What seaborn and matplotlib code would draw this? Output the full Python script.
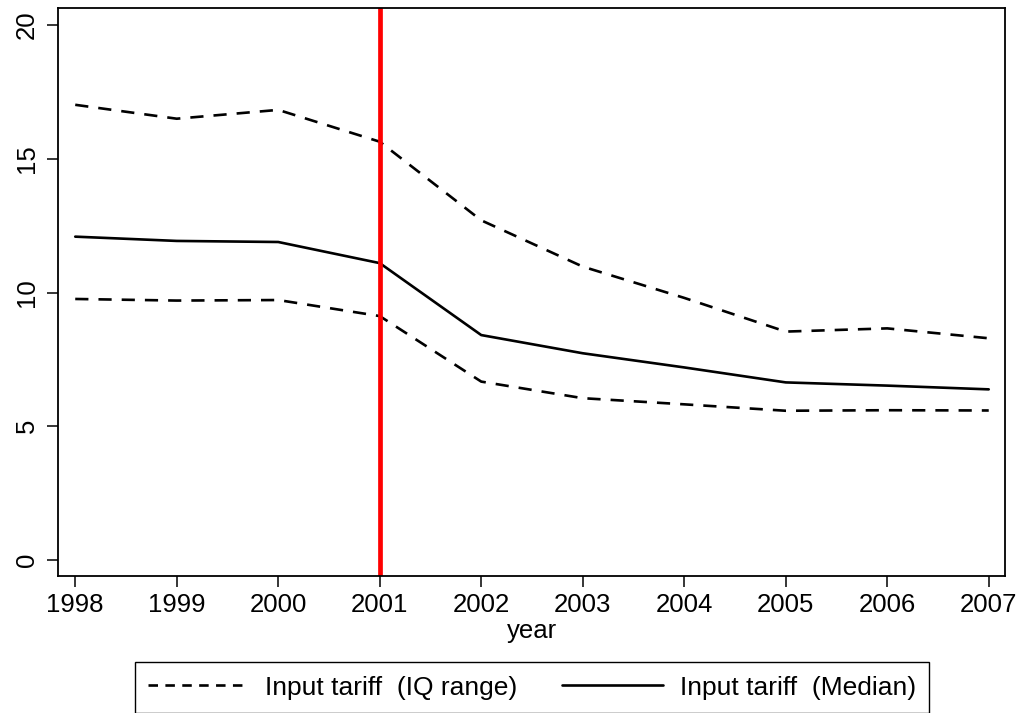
import matplotlib
matplotlib.use("Agg")
import matplotlib.pyplot as plt
import seaborn as sns
import pandas as pd
from matplotlib.lines import Line2D

# Input tariff by year: interquartile bounds and median
years = [1998, 1999, 2000, 2001, 2002, 2003, 2004, 2005, 2006, 2007]
p75 = [17.02, 16.50, 16.83, 15.64, 12.70, 10.97, 9.80, 8.54, 8.66, 8.29]
median = [12.09, 11.93, 11.89, 11.10, 8.41, 7.73, 7.20, 6.64, 6.52, 6.38]
p25 = [9.76, 9.70, 9.72, 9.12, 6.67, 6.05, 5.82, 5.58, 5.60, 5.59]
wto_year = 2001

df = pd.DataFrame({"year": years, "p75": p75, "median": median, "p25": p25})

sns.set_style("ticks")
plt.rcParams["font.family"] = ["Liberation Sans", "DejaVu Sans"]
plt.rcParams.update({
    "text.color": "black",
    "axes.labelcolor": "black",
    "xtick.color": "black",
    "ytick.color": "black",
    "axes.edgecolor": "black",
})

fig = plt.figure(figsize=(10.28, 7.13), dpi=100)
ax = fig.add_axes([0.0564, 0.1921, 0.9212, 0.7967])

lw = 1.9
dash = (0, (5.0, 3.8))
sns.lineplot(data=df, x="year", y="p75", ax=ax, color="black", lw=lw, linestyle=dash)
sns.lineplot(data=df, x="year", y="p25", ax=ax, color="black", lw=lw, linestyle=dash)
sns.lineplot(data=df, x="year", y="median", ax=ax, color="black", lw=lw)
ax.axvline(wto_year, color="#ff0000", lw=3.4)

ax.set_xlim(1997.83, 2007.16)
ax.set_ylim(-0.6, 20.64)
ax.set_xticks(years)
ax.set_yticks([0, 5, 10, 15, 20])
ax.set_xlabel("year", fontsize=18.5, labelpad=2)
ax.set_ylabel("")
ax.tick_params(axis="both", labelsize=18.5, length=8, width=1.1,
               color="black", labelcolor="black", direction="out")
ax.tick_params(axis="x", pad=4)
ax.tick_params(axis="y", pad=6)
for lbl in ax.get_yticklabels():
    lbl.set_rotation(90)
    lbl.set_va("center")
for side in ["left", "bottom", "top", "right"]:
    ax.spines[side].set_visible(True)
    ax.spines[side].set_color("black")
    ax.spines[side].set_linewidth(1.3)

handles = [
    Line2D([], [], color="black", lw=lw, linestyle=(0, (3.6, 2.8))),
    Line2D([], [], color="black", lw=lw),
]
labels = ["Input tariff  (IQ range)", "Input tariff  (Median)"]
leg = fig.legend(handles, labels, loc="center", bbox_to_anchor=(0.5175, 0.0355),
                 ncol=2, fontsize=19, frameon=True, fancybox=False,
                 handlelength=3.8, handletextpad=0.65, columnspacing=1.7,
                 borderpad=0.5, borderaxespad=0)
leg.get_frame().set_edgecolor("black")
leg.get_frame().set_linewidth(1.0)
leg.get_frame().set_alpha(1)

fig.savefig("out.png", dpi=100)
